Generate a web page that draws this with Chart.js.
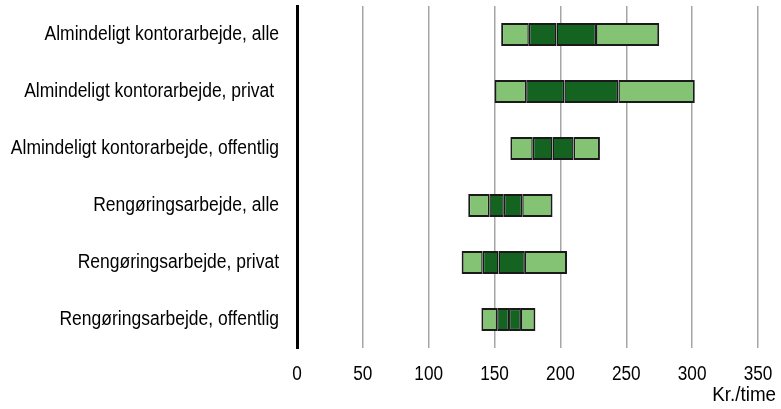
<!DOCTYPE html>
<html>
<head>
<meta charset="utf-8">
<script src="https://cdn.jsdelivr.net/npm/chart.js@4"></script>
<style>
  html, body { margin: 0; padding: 0; background: #fff; }
  #wrap { width: 781px; height: 409px; }
</style>
</head>
<body>
<div id="wrap"><canvas id="c" width="781" height="409"></canvas></div>
<script>
const labels = [
  "Almindeligt kontorarbejde, alle",
  "Almindeligt kontorarbejde, privat ",
  "Almindeligt kontorarbejde, offentlig",
  "Rengøringsarbejde, alle",
  "Rengøringsarbejde, privat",
  "Rengøringsarbejde, offentlig"
];
// kr./time: 10%, 25%, median, 75%, 90%
const p10 = [155, 150, 162, 130, 125, 140];
const p25 = [176, 174, 179, 146, 141, 152];
const median = [197, 203, 194, 157, 153, 161];
const p75 = [227, 244, 210, 171, 173, 170];
const p90 = [275, 302, 230, 194, 205, 181];
const xTicks = [0, 50, 100, 150, 200, 250, 300, 350];
const axisTitle = "Kr./time";

const light = "#84c374";
const dark = "#146321";
const font = "'Liberation Sans', Arial, sans-serif";

const pairs = (a, b) => a.map((v, i) => [v, b[i]]);

// inner joins get a thinner border from each side so they don't look doubled
function seg(from, to, color, left, right) {
  return {
    data: pairs(from, to),
    backgroundColor: color,
    borderColor: "#1a1a1a",
    borderWidth: { top: 2, bottom: 2, left: left, right: right },
    borderSkipped: false,
    grouped: false,
    barPercentage: 0.4,
    categoryPercentage: 1
  };
}

// the original uses a narrow font, so squeeze the text a bit
function narrowText(ctx, text, x, y, align, sx) {
  ctx.save();
  ctx.translate(x, y);
  ctx.scale(sx, 1);
  ctx.textAlign = align;
  ctx.fillText(text, 0, 0);
  ctx.restore();
}

const textPlugin = {
  id: "narrowLabels",
  afterDraw(chart) {
    const ctx = chart.ctx;
    const xs = chart.scales.x, ys = chart.scales.y;
    ctx.save();
    ctx.font = "20px " + font;
    ctx.fillStyle = "#000";
    ctx.textBaseline = "middle";
    labels.forEach((t, i) => {
      narrowText(ctx, t, ys.right - 18, ys.getPixelForTick(i), "right", 0.875);
    });
    xTicks.forEach(v => {
      narrowText(ctx, String(v), xs.getPixelForValue(v), xs.top + 26, "center", 0.86);
    });
    narrowText(ctx, axisTitle, 776, 395, "right", 0.94);
    ctx.restore();
  }
};

function squash(s) {
  s.paddingTop = s.paddingBottom = s.paddingLeft = s.paddingRight = 0;
}

new Chart(document.getElementById("c"), {
  type: "bar",
  data: {
    labels: labels,
    datasets: [
      seg(p10, p25, light, 2, 1.5),
      seg(p25, median, dark, 1.5, 1.5),
      seg(median, p75, dark, 1.5, 1.5),
      seg(p75, p90, light, 1.5, 2)
    ]
  },
  options: {
    indexAxis: "y",
    responsive: false,
    animation: false,
    layout: { padding: { top: 6, right: 23, left: 0, bottom: 0 } },
    plugins: { legend: { display: false }, tooltip: { enabled: false } },
    scales: {
      x: {
        min: 0,
        max: 350,
        afterBuildTicks: s => { s.ticks = xTicks.map(v => ({ value: v })); },
        afterFit: s => { s.height = 61; squash(s); },
        grid: { color: "#a6a6a6", lineWidth: 1.5, drawTicks: false },
        border: { display: false },
        ticks: { display: false }
      },
      y: {
        afterFit: s => { s.width = 297; squash(s); },
        grid: { display: false, drawTicks: false },
        border: { display: true, color: "#000", width: 3 },
        ticks: { display: false }
      }
    }
  },
  plugins: [textPlugin]
});
</script>
</body>
</html>
